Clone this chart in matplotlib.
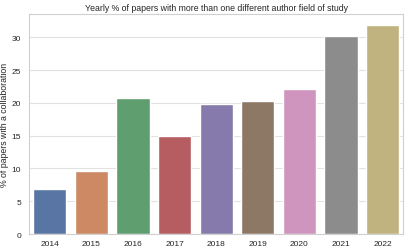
import matplotlib
matplotlib.use("Agg")
import matplotlib.pyplot as plt
import seaborn as sns

years = ["2014", "2015", "2016", "2017", "2018", "2019", "2020", "2021", "2022"]
pct_collab = [6.8, 9.65, 20.75, 14.9, 19.85, 20.3, 22.15, 30.25, 31.8]

sns.set_theme(style="whitegrid")
plt.rcParams["font.family"] = ["Liberation Sans", "DejaVu Sans"]

fig, ax = plt.subplots(figsize=(4.07, 2.53), dpi=100)
sns.barplot(x=years, y=pct_collab, hue=years, palette="deep", legend=False, ax=ax)
ax.set_title("Yearly % of papers with more than one different author field of study",
             fontsize=6.3, pad=3)
ax.set_ylabel("% of papers with a collaboration", fontsize=6.3)
ax.yaxis.set_label_coords(-0.052, 0.5)
ax.tick_params(axis="y", labelsize=6, length=0, pad=5.5)
ax.tick_params(axis="x", labelsize=6, length=0, pad=4)
ax.grid(axis="y", color="#e2e2e2", linewidth=0.8)
for s in ax.spines.values():
    s.set_color("#d0d0d0")
    s.set_linewidth(0.8)
ax.set_ylim(0, 33.55)
fig.subplots_adjust(left=0.0708, right=0.9914, top=0.941, bottom=0.071)
fig.savefig("out.png", dpi=100)
